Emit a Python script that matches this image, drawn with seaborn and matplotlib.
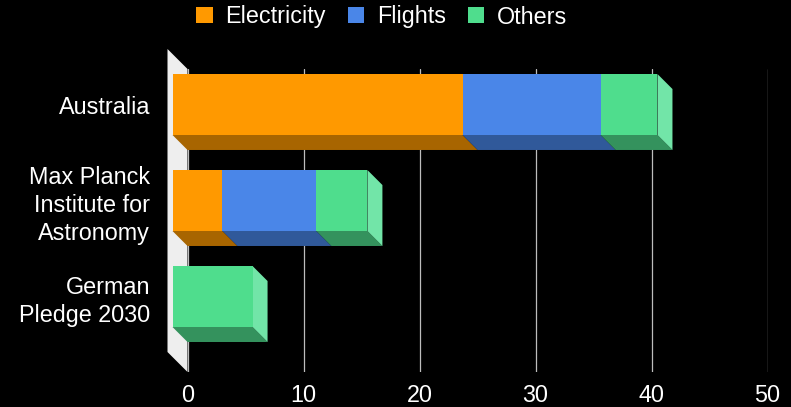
import matplotlib
matplotlib.use("Agg")
import numpy as np
import pandas as pd
import seaborn as sns
import matplotlib.pyplot as plt
from matplotlib.patches import Polygon, Patch
from matplotlib.transforms import ScaledTranslation

# ---- data ----
categories = ["Australia", "Max Planck\nInstitute for\nAstronomy", "German\nPledge 2030"]
series = ["Electricity", "Flights", "Others"]
electricity = [25.0, 4.3, 0.0]
flights = [11.9, 8.1, 0.0]
others = [4.9, 4.4, 6.9]
xticks = [0, 10, 20, 30, 40, 50]

front_colors = ["#ff9900", "#4a86e8", "#4fdd8d"]
bottom_colors = ["#a86500", "#30599a", "#34925d"]
side_colors = ["#ffb84d", "#80aaef", "#72e5a8"]

sns.set_theme(style="dark")
plt.rcParams["font.family"] = ["Liberation Sans", "DejaVu Sans"]

W, H, DPI = 791, 407, 100
fig = plt.figure(figsize=(W / DPI, H / DPI), dpi=DPI, facecolor="black")
# back-plane geometry in pixels
x0_px, x50_px = 187.5, 767.6
top_px, bot_px = 69, 372
ax = fig.add_axes([x0_px / W, (H - bot_px) / H, (x50_px - x0_px) / W, (bot_px - top_px) / H])
ax.set_facecolor("black")

df = pd.DataFrame({"category": categories,
                   "Electricity": electricity,
                   "Flights": flights,
                   "Others": others})
cum = df[series].cumsum(axis=1)
long = cum.assign(category=df["category"])

ylo, yhi = -0.526, 2.630
bar_h = 0.635
# front faces via seaborn (cumulative, largest first)
for s, col in reversed(list(zip(series, front_colors))):
    sns.barplot(data=long, x=s, y="category", orient="h", color=col,
                saturation=1, width=bar_h, ax=ax, zorder=5, linewidth=0)

ax.set_xlim(0, 50)
ax.set_ylim(yhi, ylo)
ax.set_xticks(xticks)
ax.set_xlabel("")
ax.set_ylabel("")
for sp in ax.spines.values():
    sp.set_visible(False)
ax.grid(axis="x", color="#bdbdbd", lw=0.9)
ax.grid(axis="y", visible=False)
ax.set_axisbelow(True)

depth = 15  # px
pxx = ax.bbox.width / 50.0
pxy = ax.bbox.height / (yhi - ylo)
dxd, dyd = depth / pxx, depth / pxy

front_off = ScaledTranslation(-depth / DPI, depth / DPI, fig.dpi_scale_trans)
for p in ax.patches:
    p.set_transform(ax.transData + front_off)
    p.set_clip_on(False)

# depth faces
starts = np.column_stack([np.zeros(len(categories)), cum[series].values[:, :-1]])
ends = cum[series].values
for i in range(len(categories)):
    yb = i + bar_h / 2
    yt = i - bar_h / 2
    for j in range(len(series)):
        a, b = starts[i, j], ends[i, j]
        if b - a <= 0:
            continue
        ax.add_patch(Polygon([(a - dxd, yb - dyd), (b - dxd, yb - dyd), (b, yb), (a, yb)],
                             closed=True, facecolor=bottom_colors[j], edgecolor="none",
                             zorder=3, clip_on=False))
    # right side face on the last non-empty segment
    jl = max(j for j in range(len(series)) if ends[i, j] - starts[i, j] > 0)
    c = ends[i, jl]
    ax.add_patch(Polygon([(c - dxd, yt - dyd), (c, yt), (c, yb), (c - dxd, yb - dyd)],
                         closed=True, facecolor=side_colors[jl], edgecolor="none",
                         zorder=3, clip_on=False))

# left wall
wd = 20
ax.add_patch(Polygon([(-wd / pxx, ylo - wd / pxy), (0, ylo), (0, yhi), (-wd / pxx, yhi - wd / pxy)],
                     closed=True, facecolor="#eeeeee", edgecolor="none", zorder=2, clip_on=False))

fs = 16.8
ax.tick_params(axis="x", length=0, pad=9, labelsize=fs, labelcolor="white")
ax.tick_params(axis="y", length=0, pad=27, labelsize=fs, labelcolor="white")
ax.set_xticklabels([str(t) for t in xticks])
lab_off = ScaledTranslation(0, depth / DPI, fig.dpi_scale_trans)
for lbl in ax.get_yticklabels():
    lbl.set_transform(lbl.get_transform() + lab_off)
    lbl.set_linespacing(1.28)

handles = [Patch(facecolor=c, edgecolor="none", label=s) for s, c in zip(series, front_colors)]
fig.legend(handles=handles, ncol=3, frameon=False, fontsize=fs, labelcolor="white",
           handlelength=0.69, handleheight=0.69, handletextpad=0.56, columnspacing=0.94,
           loc="center", bbox_to_anchor=(382 / W, 1 - 17 / H), borderpad=0, borderaxespad=0)

fig.savefig("out.png", dpi=DPI, facecolor="black")
